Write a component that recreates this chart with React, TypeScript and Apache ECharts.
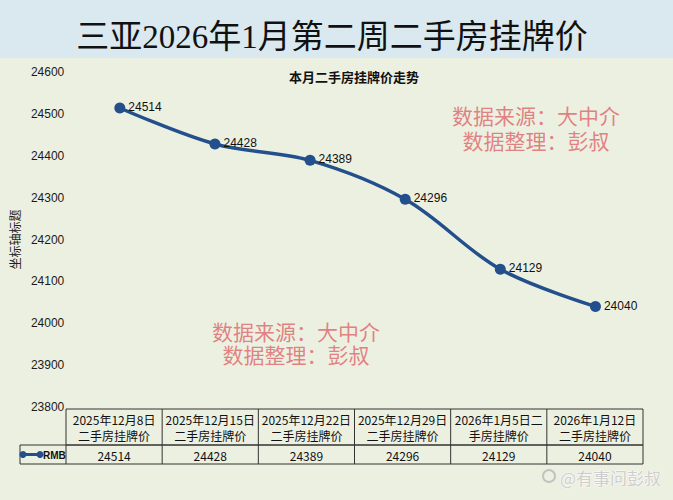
import React, { useEffect, useRef } from "react";
import * as echarts from "echarts";

// Weekly listing prices (RMB per m²)
const categories = [
  "2025年12月8日",
  "2025年12月15日",
  "2025年12月22日",
  "2025年12月29日",
  "2026年1月5日",
  "2026年1月12日",
];
// Header cells of the data table, as they wrap in two lines
const headerLines = [
  ["2025年12月8日", "二手房挂牌价"],
  ["2025年12月15日", "二手房挂牌价"],
  ["2025年12月22日", "二手房挂牌价"],
  ["2025年12月29日", "二手房挂牌价"],
  ["2026年1月5日二", "手房挂牌价"],
  ["2026年1月12日", "二手房挂牌价"],
];
const values = [24514, 24428, 24389, 24296, 24129, 24040];
const seriesName = "RMB";
const yMin = 23800;
const yMax = 24600;
const yStep = 100;

const titleText = "三亚2026年1月第二周二手房挂牌价";
const subTitleText = "本月二手房挂牌价走势";
const yAxisName = "坐标轴标题";
const noteLines = ["数据来源：大中介", "数据整理：彭叔"];
const brandText = "@有事问彭叔";

const W = 673;
const H = 500;
const GRID = { left: 66, right: 30, top: 72, bottom: 93 };
const LINE_COLOR = "#234f8d";
const CJK = "'Noto Sans CJK SC', 'Noto Sans', sans-serif";

export default function App() {
  const ref = useRef<HTMLDivElement>(null);

  useEffect(() => {
    if (!ref.current) return;
    const chart = echarts.init(ref.current, null, { renderer: "svg" });

    const plotW = W - GRID.left - GRID.right;
    const colW = plotW / categories.length;
    const tableTop = H - GRID.bottom + 2;
    const headerBottom = tableTop + 36;
    const rowBottom = headerBottom + 19;
    const keyLeft = 20;
    const border = { stroke: "#333", lineWidth: 1 };

    const table: any[] = [];
    // outer frame of header row and value row
    table.push({
      type: "rect",
      shape: { x: GRID.left, y: tableTop, width: plotW, height: headerBottom - tableTop },
      style: { fill: "none", ...border },
    });
    table.push({
      type: "rect",
      shape: { x: keyLeft, y: headerBottom, width: GRID.left + plotW - keyLeft, height: rowBottom - headerBottom },
      style: { fill: "none", ...border },
    });
    categories.forEach((_, i) => {
      const x0 = GRID.left + i * colW;
      const cx = x0 + colW / 2;
      if (i > 0) {
        table.push({
          type: "line",
          shape: { x1: x0, y1: tableTop, x2: x0, y2: rowBottom },
          style: border,
        });
      }
      table.push({
        type: "text",
        x: cx,
        y: tableTop + 18,
        style: {
          text: headerLines[i].join("\n"),
          align: "center",
          verticalAlign: "middle",
          lineHeight: 16,
          font: `12px ${CJK}`,
          fill: "#111",
        },
      });
      table.push({
        type: "text",
        x: cx,
        y: (headerBottom + rowBottom) / 2 + 1,
        style: {
          text: String(values[i]),
          align: "center",
          verticalAlign: "middle",
          font: `12px ${CJK}`,
          fill: "#111",
        },
      });
    });
    // divider between legend key cell and first value cell
    table.push({
      type: "line",
      shape: { x1: GRID.left, y1: headerBottom, x2: GRID.left, y2: rowBottom },
      style: border,
    });
    // legend key: line with markers + series name
    const keyY = (headerBottom + rowBottom) / 2;
    table.push({
      type: "line",
      shape: { x1: keyLeft + 2, y1: keyY, x2: keyLeft + 21, y2: keyY },
      style: { stroke: LINE_COLOR, lineWidth: 3 },
    });
    [keyLeft + 3, keyLeft + 20].forEach((x) =>
      table.push({ type: "circle", shape: { cx: x, cy: keyY, r: 3.5 }, style: { fill: LINE_COLOR } })
    );
    table.push({
      type: "text",
      x: keyLeft + 23,
      y: keyY + 1,
      style: {
        text: seriesName,
        align: "left",
        verticalAlign: "middle",
        font: `bold 10px 'Liberation Sans Narrow', 'Liberation Sans', sans-serif`,
        fill: "#111",
      },
    });

    // two-line source note, drawn as one text block
    const note = (cx: number, cy: number, lh: number) => ({
      type: "text",
      x: cx,
      y: cy,
      z: 20,
      style: {
        text: noteLines.join("\n"),
        align: "center",
        verticalAlign: "middle",
        font: `21px ${CJK}`,
        lineHeight: lh,
        fill: "rgba(222, 110, 112, 0.85)",
      },
    });

    chart.setOption({
      animation: false,
      backgroundColor: "#ecf0e1",
      grid: { ...GRID, containLabel: false },
      xAxis: {
        type: "category",
        data: categories,
        boundaryGap: true,
        axisLine: { show: false },
        axisTick: { show: false },
        axisLabel: { show: false },
        splitLine: { show: false },
      },
      yAxis: {
        type: "value",
        min: yMin,
        max: yMax,
        interval: yStep,
        name: yAxisName,
        nameLocation: "middle",
        nameGap: 47,
        nameRotate: 90,
        nameTextStyle: { fontSize: 12, color: "#222", fontFamily: CJK },
        axisLine: { show: false },
        axisTick: { show: false },
        splitLine: { show: false },
        axisLabel: {
          margin: 8,
          fontSize: 12,
          color: "#1a1a1a",
          fontFamily: "'Liberation Sans', Arial, sans-serif",
          formatter: (v: number) => String(v),
        },
      },
      series: [
        {
          name: seriesName,
          type: "line",
          data: values,
          smooth: 0.35,
          symbol: "circle",
          symbolSize: 11,
          lineStyle: { color: LINE_COLOR, width: 3.5 },
          itemStyle: { color: LINE_COLOR },
          label: {
            show: true,
            position: "right",
            distance: 3,
            offset: [0, -1],
            fontSize: 12,
            color: "#111",
            fontFamily: "'Liberation Sans', Arial, sans-serif",
          },
          z: 5,
        },
      ],
      graphic: [
        {
          type: "rect",
          shape: { x: 0, y: 0, width: W, height: 58 },
          style: { fill: "#d9e9ef" },
          z: -1,
        },
        {
          type: "text",
          x: 332,
          y: 37,
          style: {
            text: titleText,
            align: "center",
            verticalAlign: "middle",
            font: `33px 'Liberation Serif', 'Noto Sans CJK SC', serif`,
            fill: "#111",
          },
        },
        {
          type: "text",
          x: 354,
          y: 76,
          style: {
            text: subTitleText,
            align: "center",
            verticalAlign: "middle",
            font: `bold 13px ${CJK}`,
            fill: "#111",
          },
        },
        ...table,
        note(536, 127.5, 25),
        note(296, 342.5, 23),
        {
          type: "circle",
          shape: { cx: 549, cy: 476, r: 6 },
          style: { fill: "none", stroke: "rgba(190,190,190,0.9)", lineWidth: 2 },
        },
        {
          type: "text",
          x: 560,
          y: 477,
          style: {
            text: brandText,
            align: "left",
            verticalAlign: "middle",
            font: `17px ${CJK}`,
            fill: "rgba(200,200,200,0.9)",
            stroke: "rgba(255,255,255,0.8)",
            lineWidth: 1,
          },
        },
      ],
    });

    return () => chart.dispose();
  }, []);

  return <div ref={ref} style={{ width: W, height: H, position: "absolute", left: 0, top: 0 }} />;
}
